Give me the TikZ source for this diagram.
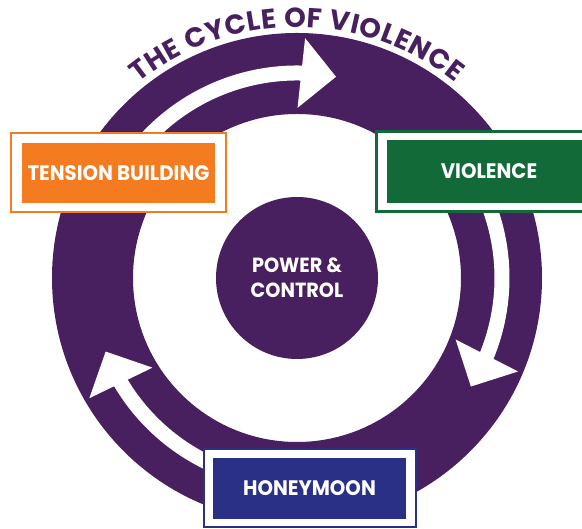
\documentclass[tikz,border=0pt]{standalone}
\usepackage{fontspec}
\setmainfont{Poppins}
\newfontfamily\labelfont[FakeStretch=0.94]{Poppins}
\usetikzlibrary{arrows.meta,bending,decorations.text}

\definecolor{ringpurple}{HTML}{481F5F}
\definecolor{tensionorange}{HTML}{F47B20}
\definecolor{violencegreen}{HTML}{116A37}
\definecolor{honeyblue}{HTML}{2B3087}

\newcommand{\titlefont}{\bfseries\fontsize{27.5}{31}\selectfont}

\tikzset{
  stageframe/.style={draw=#1, line width=2pt, fill=white, inner sep=0pt},
  stagebox/.style={fill=#1, text=white, inner sep=0pt,
    font=\labelfont\bfseries\fontsize{21}{24}\selectfont},
  cyclearrow/.style={white, line width=15pt, -{Triangle[width=68pt,length=35pt]}}
}

\begin{document}
\begin{tikzpicture}[x=1pt,y=1pt]
    \useasboundingbox (0,0) rectangle (582,529);
    \clip (0,0) rectangle (582,529);

    % ring
    \coordinate (hubcentre) at (297,251);
    \fill [ringpurple, even odd rule] (hubcentre) circle [radius=245] (hubcentre) circle [radius=164];

    % centre disc
    \node [circle, fill=ringpurple, minimum size=162pt, inner sep=0pt, text=white, align=center,
        font=\labelfont\bfseries\fontsize{20.5}{25}\selectfont] (hub) at (hubcentre) {POWER \&\\CONTROL};

    % arrows in the ring
    \draw [cyclearrow] ([shift={(145:205)}]hubcentre) arc [start angle=145, end angle=79, radius=205];
    \draw [cyclearrow] ([shift={(22:205)}]hubcentre) arc [start angle=22, end angle=-32, radius=205];
    \draw [cyclearrow] ([shift={(252:205)}]hubcentre) arc [start angle=252, end angle=201, radius=205];

    % title
    \path [decorate, decoration={text along path, text align=fit to path, text color=ringpurple,
        text={|\titlefont|THE CYCLE OF VIOLENCE}}]
        ([shift={(129:251)}]hubcentre) arc [start angle=129, end angle=51, radius=251];

    % stage boxes
    \node [stageframe=tensionorange, minimum width=215pt, minimum height=79pt] (tensionframe) at (118.5,356.5) {};
    \node [stagebox=tensionorange, minimum width=193pt, minimum height=60pt] (tension) at (118.5,356) {TENSION BUILDING};

    \node [stageframe=violencegreen, line width=3pt, minimum width=225pt, minimum height=80pt] (violenceframe) at (489,357.5) {};
    \node [stagebox=violencegreen, minimum width=204pt, minimum height=63pt] (violence) at (489,357.5) {VIOLENCE};

    \node [stageframe=honeyblue, minimum width=212pt, minimum height=78pt] (honeymoonframe) at (310,41) {};
    \node [stagebox=honeyblue, minimum width=193pt, minimum height=61pt] (honeymoon) at (309.5,40.5) {HONEYMOON};

\end{tikzpicture}
\end{document}
